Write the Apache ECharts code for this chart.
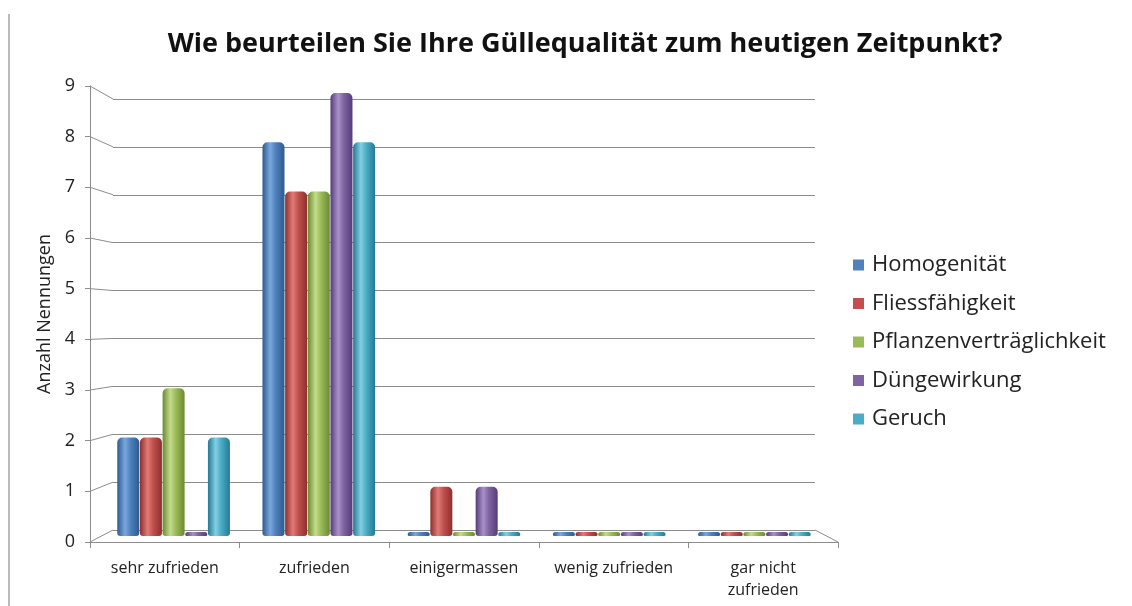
<!DOCTYPE html>
<html><head><meta charset="utf-8">
<script src="https://cdn.jsdelivr.net/npm/echarts@6/dist/echarts.min.js"></script>
<style>html,body{margin:0;padding:0;background:#fff}#c{width:1132px;height:606px}</style>
</head><body><div id="c"></div>
<script>
const categories = ['sehr zufrieden', 'zufrieden', 'einigermassen', 'wenig zufrieden', 'gar nicht\nzufrieden'];
const homogenitaet = [2, 8, 0, 0, 0];
const fliessfaehigkeit = [2, 7, 1, 0, 0];
const pflanzen = [3, 7, 0, 0, 0];
const duengewirkung = [0, 9, 1, 0, 0];
const geruch = [2, 8, 0, 0, 0];
const yTicks = [0, 1, 2, 3, 4, 5, 6, 7, 8, 9];

const FONT = '"Open Sans", "Noto Sans", sans-serif';
function cyl(dark, mid, light) {
  return new echarts.graphic.LinearGradient(0, 0, 1, 0, [
    {offset: 0, color: dark}, {offset: 0.35, color: light}, {offset: 0.6, color: mid}, {offset: 1, color: dark}
  ]);
}
const seriesDefs = [
  {name: 'Homogenität', data: homogenitaet, c: ['#2d5a8f', '#4f81bd', '#7aa7dd'], legend: '#4f81bd'},
  {name: 'Fliessfähigkeit', data: fliessfaehigkeit, c: ['#8e2f2c', '#c0504d', '#e07b78'], legend: '#c0504d'},
  {name: 'Pflanzenverträglichkeit', data: pflanzen, c: ['#6b8a30', '#9bbb59', '#c3dc8a'], legend: '#9bbb59'},
  {name: 'Düngewirkung', data: duengewirkung, c: ['#553c78', '#8064a2', '#a991c8'], legend: '#8064a2'},
  {name: 'Geruch', data: geruch, c: ['#237a92', '#4bacc6', '#83cfe2'], legend: '#4bacc6'}
];

const chart = echarts.init(document.getElementById('c'), null, {renderer: 'canvas'});
const option = {
  animation: false,
  color: seriesDefs.map(s => s.legend),
  title: {
    text: 'Wie beurteilen Sie Ihre Güllequalität zum heutigen Zeitpunkt?',
    left: 580, textAlign: 'center', top: 26,
    textStyle: {fontFamily: FONT, fontWeight: 'bold', fontSize: 27, color: '#111'}
  },
  legend: {
    orient: 'vertical', left: 848, top: 249, itemGap: 16.5, itemWidth: 11, itemHeight: 11,
    icon: 'rect',
    textStyle: {fontFamily: FONT, fontSize: 22, color: '#222', padding: [0, 0, 0, 3]},
    data: seriesDefs.map(s => ({name: s.name, itemStyle: {color: s.legend}}))
  },
  grid: [
    {left: 90, right: 294, top: 86, bottom: 64},      // front axis
    {left: 113, right: 317, top: 99, bottom: 76},     // back wall
    {left: 101, right: 305, top: 93, bottom: 70}      // bars
  ],
  xAxis: [
    {gridIndex: 0, type: 'category', data: categories, boundaryGap: true,
     axisLine: {lineStyle: {color: '#8c8c8c'}}, axisTick: {show: true, length: 6, lineStyle: {color: '#8c8c8c'}},
     axisLabel: {fontFamily: FONT, fontSize: 16, color: '#222', margin: 15, lineHeight: 22, interval: 0}},
    {gridIndex: 1, type: 'category', data: categories, show: false},
    {gridIndex: 2, type: 'category', data: categories, show: false}
  ],
  yAxis: [
    {gridIndex: 0, type: 'value', min: 0, max: 9, interval: 1,
     name: 'Anzahl Nennungen', nameLocation: 'middle', nameGap: 36, nameRotate: 90,
     nameTextStyle: {fontFamily: FONT, fontSize: 18, color: '#222'},
     axisLine: {show: true, lineStyle: {color: '#8c8c8c'}}, axisTick: {show: true, length: 5, lineStyle: {color: '#8c8c8c'}},
     axisLabel: {fontFamily: FONT, fontSize: 18, color: '#222', margin: 15},
     splitLine: {show: false}},
    {gridIndex: 1, type: 'value', min: 0, max: 9, interval: 1,
     axisLine: {show: false}, axisTick: {show: false}, axisLabel: {show: false},
     splitLine: {show: true, lineStyle: {color: '#8c8c8c', width: 1}}},
    {gridIndex: 2, type: 'value', min: 0, max: 9, interval: 1, show: false, splitLine: {show: false}}
  ],
  series: seriesDefs.map(s => ({
    name: s.name, type: 'bar', xAxisIndex: 2, yAxisIndex: 2,
    data: s.data, barWidth: 22, barGap: '3%', barMinHeight: 4,
    itemStyle: {color: cyl(s.c[0], s.c[1], s.c[2]), borderRadius: [5, 5, 3, 3]}
  }))
};
chart.setOption(option);

// perspective decorations derived from the axes
const g = [];
const lineStyle = {stroke: '#8c8c8c', lineWidth: 1};
const fr = chart.getModel().getComponent('grid', 0).coordinateSystem.getRect();
const br = chart.getModel().getComponent('grid', 1).coordinateSystem.getRect();
yTicks.forEach(v => {
  const f = chart.convertToPixel({xAxisIndex: 0, yAxisIndex: 0}, [0, v]);
  const b = chart.convertToPixel({xAxisIndex: 1, yAxisIndex: 1}, [0, v]);
  g.push({type: 'line', shape: {x1: fr.x, y1: f[1], x2: br.x, y2: b[1]}, style: lineStyle, silent: true});
});
g.push({type: 'line', shape: {x1: fr.x + fr.width, y1: fr.y + fr.height, x2: br.x + br.width, y2: br.y + br.height}, style: lineStyle, silent: true});
g.push({type: 'line', shape: {x1: 9, y1: 14, x2: 9, y2: 606}, style: {stroke: '#777', lineWidth: 1}, silent: true});
chart.setOption({graphic: g});
</script>
</body></html>
